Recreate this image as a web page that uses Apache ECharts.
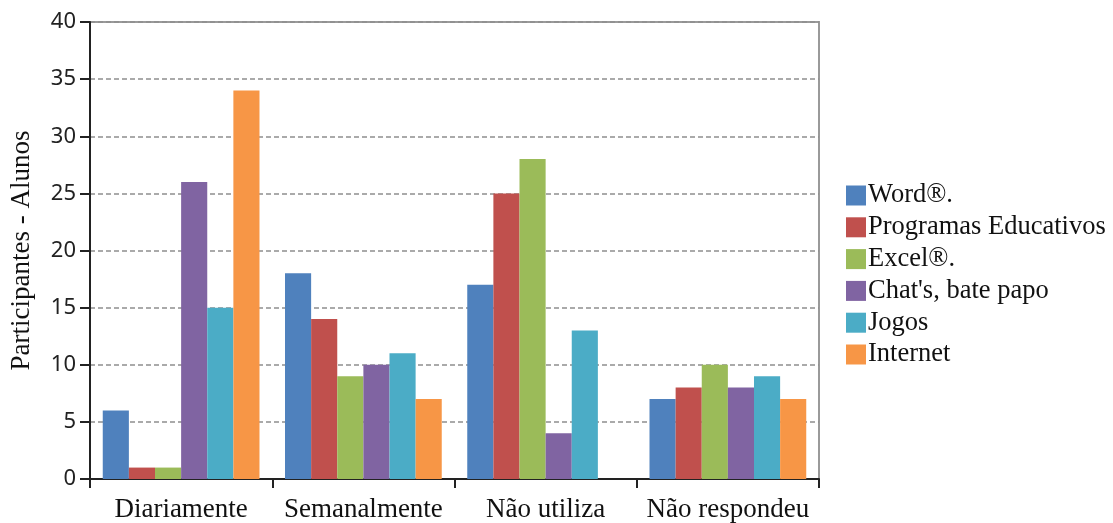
<!DOCTYPE html>
<html>
<head>
<meta charset="utf-8">
<script src="https://cdn.jsdelivr.net/npm/echarts@6/dist/echarts.min.js"></script>
<style>
  html, body { margin: 0; padding: 0; background: #fff; }
  #chart { width: 1113px; height: 523px; }
</style>
</head>
<body>
<div id="chart"></div>
<script>
// Frequency of computer use by participants, per activity
const categories = ['Diariamente', 'Semanalmente', 'Não utiliza', 'Não respondeu'];
const seriesNames = ['Word®.', 'Programas Educativos', 'Excel®.', "Chat's, bate papo", 'Jogos', 'Internet'];
const seriesColors = ['#4F81BD', '#C0504D', '#9BBB59', '#8064A2', '#4BACC6', '#F79646'];
const word      = [6, 18, 17, 7];
const programas = [1, 14, 25, 8];
const excel     = [1, 9, 28, 10];
const chat      = [26, 10, 4, 8];
const jogos     = [15, 11, 13, 9];
const internet  = [34, 7, 0, 7];
const yTicks = { min: 0, max: 40, interval: 5 };
const yAxisTitle = 'Participantes - Alunos';

const seriesValues = [word, programas, excel, chat, jogos, internet];
const serif = '"Liberation Serif", "Times New Roman", serif';

const chart = echarts.init(document.getElementById('chart'), null, { renderer: 'canvas' });

chart.setOption({
  animation: false,
  backgroundColor: '#fff',
  color: seriesColors,
  grid: {
    left: 90, right: 294, top: 22, bottom: 44,
    show: true, borderColor: '#9a9a9a', borderWidth: 2, backgroundColor: 'transparent'
  },
  legend: {
    orient: 'vertical',
    left: 841, top: 177,
    itemWidth: 20, itemHeight: 20, itemGap: 4.8,
    icon: 'rect',
    textStyle: { fontFamily: serif, fontSize: 26.5, color: '#111', padding: [0, 0, 0, -3] },
    data: seriesNames
  },
  xAxis: {
    type: 'category',
    data: categories,
    axisLine: { lineStyle: { color: '#222', width: 2 } },
    axisTick: { show: true, length: 9, lineStyle: { color: '#222', width: 2 } },
    axisLabel: { interval: 0, fontFamily: serif, fontSize: 27, color: '#111', margin: 17 }
  },
  yAxis: {
    type: 'value',
    min: yTicks.min, max: yTicks.max, interval: yTicks.interval,
    name: yAxisTitle,
    nameLocation: 'middle',
    nameGap: 55,
    nameTextStyle: { fontFamily: serif, fontSize: 27, color: '#111' },
    axisLine: { show: true, lineStyle: { color: '#222', width: 2 } },
    axisTick: { show: true, length: 10, lineStyle: { color: '#222', width: 2 } },
    axisLabel: { fontFamily: '"Noto Sans", "DejaVu Sans", sans-serif', fontSize: 22, color: '#222', margin: 14 },
    splitLine: { show: true, lineStyle: { color: '#8f8f8f', width: 1.5, type: [5, 3] } }
  },
  series: seriesNames.map((name, i) => ({
    name,
    type: 'bar',
    data: seriesValues[i],
    barGap: '0%',
    barCategoryGap: '14%',
    itemStyle: { color: seriesColors[i] }
  }))
});
</script>
</body>
</html>
